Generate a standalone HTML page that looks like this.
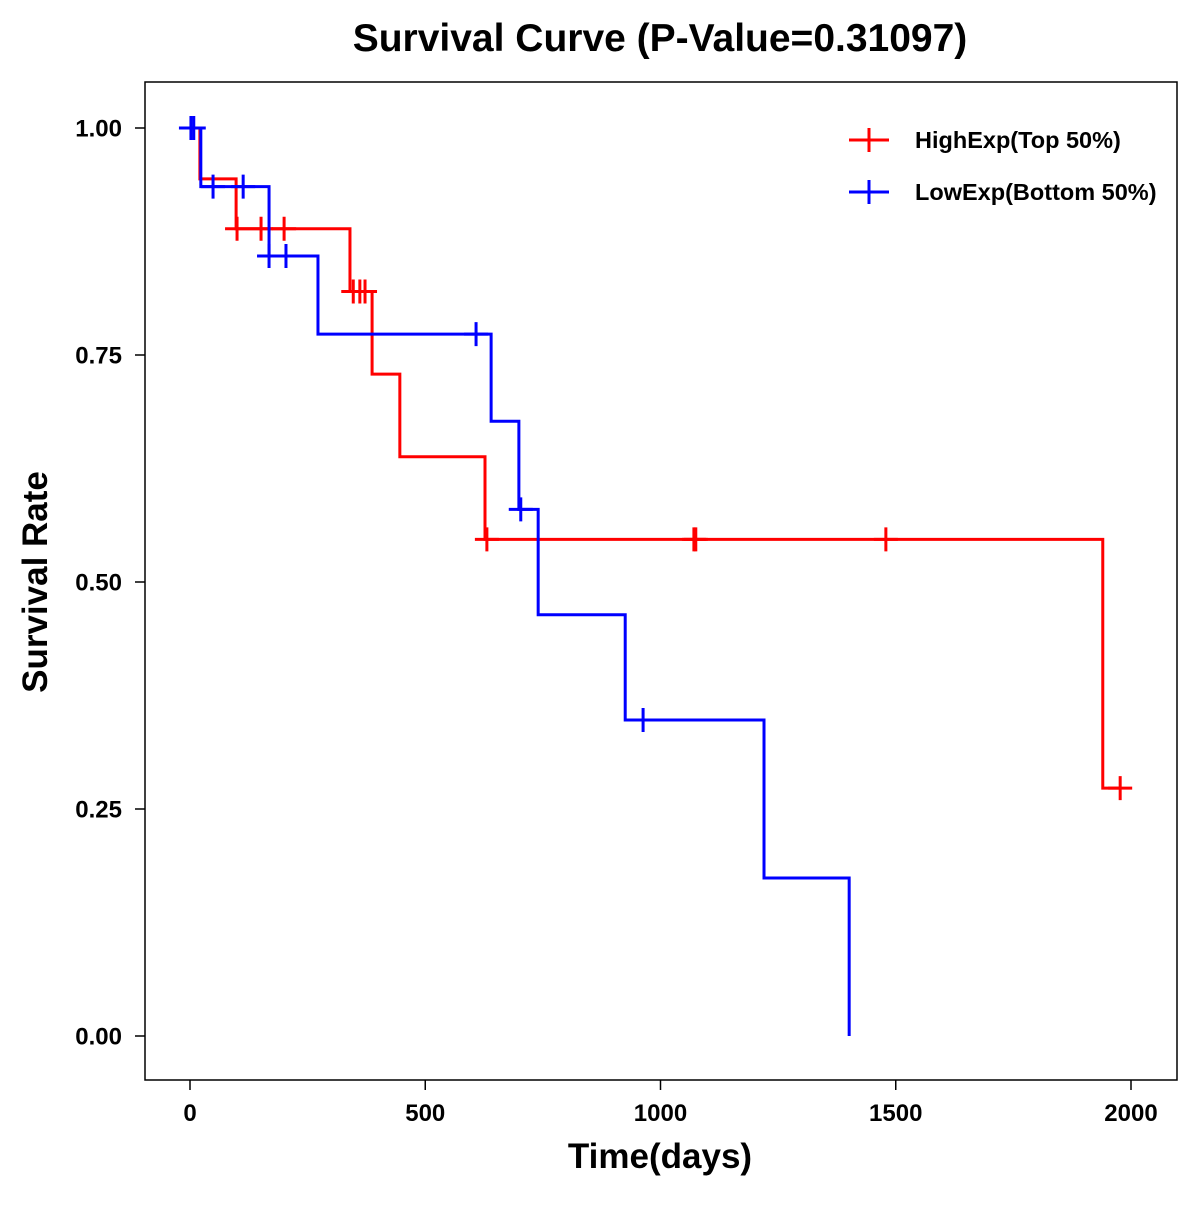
<!DOCTYPE html>
<html><head><meta charset="utf-8"><style>
body{margin:0;background:#fff}
svg text{font-family:"Liberation Sans",Arial,sans-serif;font-weight:bold;fill:#000}
</style></head><body>
<svg id="chart" width="1200" height="1200" xmlns="http://www.w3.org/2000/svg">
<rect width="1200" height="1200" fill="#fff"/>
<text x="660" y="51" text-anchor="middle" font-size="39">Survival Curve (P-Value=0.31097)</text>
<rect x="145" y="82" width="1032" height="998" fill="none" stroke="#000" stroke-width="1.5"/>
<g id="axes"></g>
<g id="series"></g>
<text x="660" y="1168" text-anchor="middle" font-size="35">Time(days)</text>
<text transform="translate(47,582) rotate(-90)" text-anchor="middle" font-size="35">Survival Rate</text>
<g>
<g>
<line x1="849" y1="140" x2="889" y2="140" stroke="#f00" stroke-width="3"/><line x1="869" y1="128" x2="869" y2="152" stroke="#f00" stroke-width="3"/>
<text x="915" y="148" font-size="23.5">HighExp(Top 50%)</text></g>
<g>
<line x1="849" y1="192" x2="889" y2="192" stroke="#00f" stroke-width="3"/><line x1="869" y1="180" x2="869" y2="204" stroke="#00f" stroke-width="3"/>
<text x="915" y="200" font-size="23.5">LowExp(Bottom 50%)</text></g>
</g>
</svg>
<script>
const xTicks=[0,500,1000,1500,2000];
const yTicks=[0,0.25,0.5,0.75,1];
const yTickLabels=["0.00","0.25","0.50","0.75","1.00"];
const highEventTimes=[21,98,340,387,446,627,1940];
const highSurv=[0.944,0.889,0.820,0.729,0.638,0.547,0.273];
const highCensor=[100,151,200,347,361,372,631,1071,1075,1479,1977];
const highEnd=1977;
const lowEventTimes=[23,168,272,640,699,740,925,1220,1401];
const lowSurv=[0.9355,0.859,0.773,0.677,0.580,0.464,0.348,0.174,0];
const lowCensor=[2,8,49,113,168,204,608,703,963];
const lowEnd=1401;

const NS="http://www.w3.org/2000/svg";
const sx=t=>190+t*(1131-190)/2000;
const sy=v=>1036-v*(1036-128);
const axes=document.getElementById('axes');
const series=document.getElementById('series');
function mk(tag,attrs,parent){const e=document.createElementNS(NS,tag);for(const k in attrs)e.setAttribute(k,attrs[k]);parent.appendChild(e);return e;}
xTicks.forEach(t=>{
  const l=mk('line',{x1:sx(t),x2:sx(t),y1:1080,y2:1090,stroke:'#000','stroke-width':1.5},axes);
  
  
  const tx=mk('text',{x:sx(t),y:1121,'text-anchor':'middle','font-size':24},axes);
  tx.textContent=t;
  
  
});
yTicks.forEach((v,i)=>{
  const l=mk('line',{x1:135,x2:145,y1:sy(v),y2:sy(v),stroke:'#000','stroke-width':1.5},axes);
  
  
  const tx=mk('text',{x:122,y:sy(v)+8.5,'text-anchor':'end','font-size':24},axes);
  tx.textContent=yTickLabels[i];
  
  
});
function survAt(times,surv,t){let s=1;for(let i=0;i<times.length;i++){if(times[i]<=t)s=surv[i];}return s;}
function draw(times,surv,cens,end,color,name){
  let d='M'+sx(0)+' '+sy(1);
  times.forEach((t,i)=>{d+=' H'+sx(t)+' V'+sy(surv[i]);});
  if(end>times[times.length-1])d+=' H'+sx(end);
  const p=mk('path',{d:d,fill:'none',stroke:color,'stroke-width':3},series);
  
  
  cens.forEach(t=>{
    const y=sy(survAt(times,surv,t)),x=sx(t);
    const g=mk('path',{d:`M${x-12} ${y} H${x+12} M${x} ${y-12} V${y+12}`,stroke:color,'stroke-width':3,fill:'none'},series);
    
    
  });
}
draw(highEventTimes,highSurv,highCensor,highEnd,'#f00','high-exp');
draw(lowEventTimes,lowSurv,lowCensor,lowEnd,'#00f','low-exp');
</script>
</body></html>
